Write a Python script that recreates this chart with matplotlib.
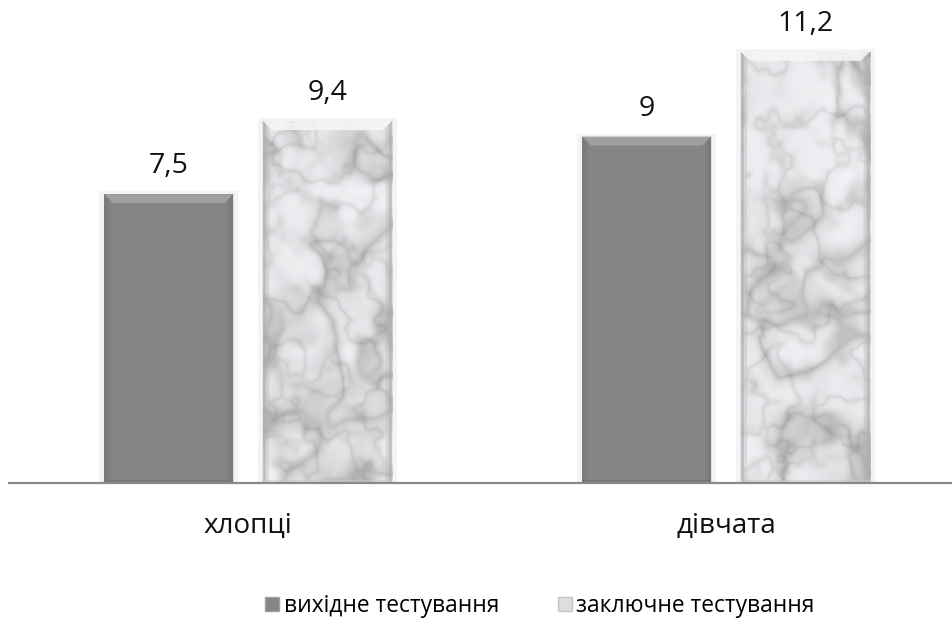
import numpy as np
import matplotlib.pyplot as plt
from matplotlib.patches import Rectangle, Polygon
from matplotlib.lines import Line2D

plt.rcParams['font.family'] = ['Open Sans', 'DejaVu Sans']

categories = ['хлопці', 'дівчата']
series_names = ['вихідне тестування', 'заключне тестування']
initial = [7.5, 9.0]
final = [9.4, 11.2]
value_labels = [['7,5', '9'], ['9,4', '11,2']]

W, H = 952, 619
fig = plt.figure(figsize=(W / 100, H / 100), dpi=100)
ax = fig.add_axes([9 / W, 136 / H, 956 / W, 462 / H])
ax.set_xlim(-0.5, 1.5)
ax.set_ylim(0, 12)

# pixel -> data unit helpers
px_x = 2.0 / 956
px_y = 12.0 / 462


def hash2(i, j, s):
    v = np.sin(i * 127.1 + j * 311.7 + s * 74.7) * 43758.5453
    return v - np.floor(v)


def value_noise(x, y, s):
    i, j = np.floor(x), np.floor(y)
    fx, fy = x - i, y - j
    fx = fx * fx * (3 - 2 * fx)
    fy = fy * fy * (3 - 2 * fy)
    a = hash2(i, j, s)
    b = hash2(i + 1, j, s)
    c = hash2(i, j + 1, s)
    d = hash2(i + 1, j + 1, s)
    return (a * (1 - fx) + b * fx) * (1 - fy) + (c * (1 - fx) + d * fx) * fy


def fbm(x, y, s, octaves=3):
    total, amp, norm = 0.0, 1.0, 0.0
    for k in range(octaves):
        total = total + amp * value_noise(x * 2 ** k, y * 2 ** k, s + k)
        norm += amp
        amp *= 0.5
    return total / norm


def marble(nx, ny, s):
    # soft white stone with grey veins
    y, x = np.mgrid[0:ny, 0:nx].astype(float)
    x /= 55.0
    y /= 55.0
    warp = fbm(x * 0.8, y * 0.8, s + 10)
    n = fbm(x + 1.5 * warp, y * 0.9 + 1.2 * warp, s)
    veins = (1 - np.abs(2 * n - 1)) ** 5
    n2 = fbm(x * 1.7 + 3.0, y * 1.7 - 2.0, s + 20)
    veins2 = (1 - np.abs(2 * n2 - 1)) ** 8
    cloud = fbm(x * 0.6, y * 0.6, s + 30)
    shade = 0.975 - 0.19 * veins - 0.10 * veins2 - 0.05 * cloud
    img = np.dstack([shade * 0.985, shade * 0.99, shade * 1.0])
    return np.clip(img, 0, 1)


def bevel(ax, x0, w, h, dark):
    bx = 9 * px_x
    by = 9 * px_y
    if dark:
        top, side, bot = '#a6a6a6', '#767676', '#6e6e6e'
    else:
        top, side, bot = '#f6f7f8', '#a9adb1', '#c8cacd'
    ax.add_patch(Polygon([[x0, h], [x0 + w, h], [x0 + w - bx, h - by], [x0 + bx, h - by]],
                         closed=True, fc=top, ec='none', alpha=0.85, zorder=4))
    for edge, sgn in ((x0, 1), (x0 + w, -1)):
        for k, a in ((0.35, 0.55), (0.7, 0.3)):
            ax.add_patch(Polygon([[edge, 0], [edge, h], [edge + sgn * bx * k, h - by * k],
                                  [edge + sgn * bx * k, 0]],
                                 closed=True, fc=side, ec='none', alpha=a, zorder=4))
    ax.add_patch(Rectangle((x0, 0), w, 3 * px_y, fc=bot, ec='none', alpha=0.5, zorder=4))


x = np.arange(len(categories))
bw = 0.27
off = 0.166

bars1 = ax.bar(x - off, initial, bw, color='#858585', zorder=3)
bars2 = ax.bar(x + off, final, bw, color='#ececec', zorder=3)

for i, (b1, b2) in enumerate(zip(bars1, bars2)):
    for b, dark in ((b1, True), (b2, False)):
        x0, w, h = b.get_x(), b.get_width(), b.get_height()
        # soft halo around each bar
        ax.add_patch(Rectangle((x0 - 5 * px_x, 0), w + 10 * px_x, h + 3 * px_y,
                               fc='#f4f4f4', ec='none', zorder=2))
        if not dark:
            img = marble(130, int(h / px_y), 3 + i * 7)
            im = ax.imshow(img, extent=(x0, x0 + w, 0, h), origin='lower',
                           aspect='auto', zorder=3.5, interpolation='bilinear')
            im.set_clip_path(b)
        bevel(ax, x0, w, h, dark)

for j, bars in enumerate((bars1, bars2)):
    for b, lab in zip(bars, value_labels[j]):
        ax.annotate(lab, (b.get_x() + b.get_width() / 2, b.get_height()),
                    xytext=(0, 10), textcoords='offset points',
                    ha='center', va='bottom', fontsize=20.5, color='#111111')

for s in ('top', 'left', 'right'):
    ax.spines[s].set_visible(False)
ax.spines['bottom'].set_color('#8a8a8a')
ax.spines['bottom'].set_linewidth(1.6)
ax.spines['bottom'].set_zorder(5)
ax.set_yticks([])
ax.set_xticks(x, categories, fontsize=20, color='#111111')
ax.tick_params(axis='x', length=0, pad=20.5)

handles = [
    Line2D([], [], ls='none', marker='s', markersize=10, mfc='#858585', mec='#a0a0a0'),
    Line2D([], [], ls='none', marker='s', markersize=10, mfc='#dedede', mec='#c4c4c4'),
]
fig.legend(handles, series_names, loc='center', bbox_to_anchor=(540 / W, 1 - 606 / H),
           ncol=2, frameon=False, fontsize=16.4, handlelength=0.6, handletextpad=0.2,
           columnspacing=2.6)

fig.savefig('out.png', dpi=100)
